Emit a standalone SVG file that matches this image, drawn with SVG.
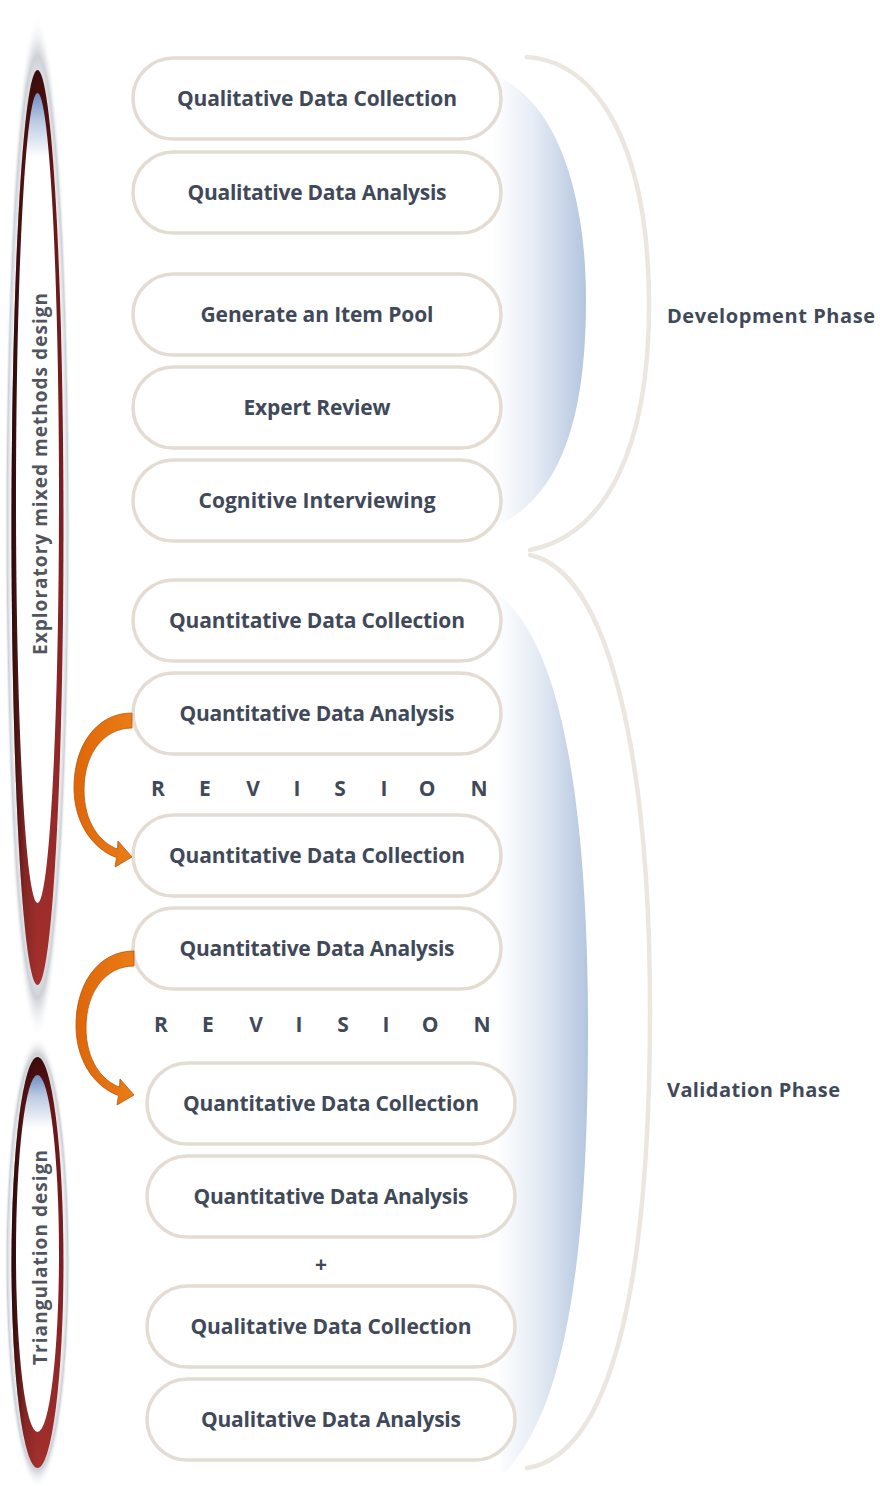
<svg xmlns="http://www.w3.org/2000/svg" width="880" height="1486" viewBox="0 0 880 1486">
<style>
.box{fill:#ffffff;stroke:#e4dcd3;stroke-width:3.5}
.lbl{font-family:"Open Sans","Liberation Sans",sans-serif;font-weight:bold;font-size:21px;fill:#3f4959;text-anchor:middle}
.phase{font-family:"Open Sans","Liberation Sans",sans-serif;font-weight:bold;font-size:20px;fill:#3f4959}
.side{font-family:"Open Sans","Liberation Sans",sans-serif;font-weight:bold;font-size:19px;fill:#51565e;text-anchor:middle}
.brace{fill:none;stroke:#ece6e0;stroke-width:4.5;stroke-linecap:round}
.arrow{fill:url(#orange);stroke:#b9550f;stroke-width:0.8}
</style>
<defs>
<radialGradient id="halo" cx="0.5" cy="0.5" r="0.5">
<stop offset="0" stop-color="#ffffff" stop-opacity="0"/>
<stop offset="0.8" stop-color="#f2f3f5" stop-opacity="0.6"/>
<stop offset="0.92" stop-color="#c8ccd2" stop-opacity="0.9"/>
<stop offset="1" stop-color="#ffffff" stop-opacity="0"/>
</radialGradient>
<linearGradient id="ring" x1="0" y1="0" x2="0" y2="1">
<stop offset="0" stop-color="#3b0b0b"/>
<stop offset="0.12" stop-color="#671717"/>
<stop offset="0.5" stop-color="#7d1f22"/>
<stop offset="1" stop-color="#a3302c"/>
</linearGradient>
<linearGradient id="ringShade" x1="0" y1="0" x2="1" y2="0">
<stop offset="0" stop-color="#000000" stop-opacity="0.7"/>
<stop offset="0.25" stop-color="#000000" stop-opacity="0.15"/>
<stop offset="0.5" stop-color="#000000" stop-opacity="0"/>
</linearGradient>
<linearGradient id="innerTop" x1="0" y1="0" x2="0" y2="1">
<stop offset="0" stop-color="#6e8dc2"/>
<stop offset="0.035" stop-color="#bccbe3"/>
<stop offset="0.08" stop-color="#ffffff"/>
<stop offset="1" stop-color="#ffffff"/>
</linearGradient>
<linearGradient id="innerBot" x1="0" y1="0" x2="0" y2="1">
<stop offset="0" stop-color="#6e8dc2"/>
<stop offset="0.06" stop-color="#bccbe3"/>
<stop offset="0.15" stop-color="#ffffff"/>
<stop offset="1" stop-color="#ffffff"/>
</linearGradient>
<linearGradient id="blueDev" gradientUnits="userSpaceOnUse" x1="492" y1="0" x2="586" y2="0">
<stop offset="0" stop-color="#ffffff"/>
<stop offset="0.45" stop-color="#e6ecf5"/>
<stop offset="1" stop-color="#b3c5df"/>
</linearGradient>
<linearGradient id="blueVal" gradientUnits="userSpaceOnUse" x1="495" y1="0" x2="588" y2="0">
<stop offset="0" stop-color="#ffffff"/>
<stop offset="0.45" stop-color="#e6ecf5"/>
<stop offset="1" stop-color="#b3c5df"/>
</linearGradient>
<linearGradient id="orange" x1="0" y1="0" x2="1" y2="0">
<stop offset="0" stop-color="#de6709"/>
<stop offset="1" stop-color="#ea7c16"/>
</linearGradient>
<path id="arrowShape" d="M132,713 C95,713 73,748 74,790 C75,826 95,850 116.5,857.5 L115,867 L132,857 L118,841 L117.5,849 C100,843 84,822 84,790 C84,752 105,728 132,728 Z"/>
</defs>
<rect x="0" y="0" width="880" height="1486" fill="#ffffff"/>

<g id="background-shading">
<path d="M492,74 C560,100 586,200 586,300 C586,420 560,500 492,528 Z" fill="url(#blueDev)"/>
<path d="M495,592 C565,640 588,820 588,1030 C588,1260 565,1410 505,1472 L500,1472 Z" fill="url(#blueVal)"/>
</g>

<g id="design-exploratory">
<ellipse cx="37.5" cy="527" rx="33" ry="512" fill="url(#halo)"/>
<ellipse cx="37.5" cy="527.5" rx="26" ry="457.5" fill="url(#ring)"/>
<ellipse cx="37.5" cy="527.5" rx="26" ry="457.5" fill="url(#ringShade)"/>
<ellipse cx="37.5" cy="498" rx="21.5" ry="405" fill="url(#innerTop)"/>
<text class="side" transform="translate(47,474) rotate(-90)" textLength="362" lengthAdjust="spacing">Exploratory mixed methods design</text>
</g>

<g id="design-triangulation">
<ellipse cx="37.5" cy="1262" rx="33" ry="226" fill="url(#halo)"/>
<ellipse cx="37.5" cy="1262.5" rx="26" ry="205.5" fill="url(#ring)"/>
<ellipse cx="37.5" cy="1262.5" rx="26" ry="205.5" fill="url(#ringShade)"/>
<ellipse cx="37.5" cy="1253.5" rx="21.5" ry="178.5" fill="url(#innerBot)"/>
<text class="side" transform="translate(47,1257.5) rotate(-90)" textLength="215" lengthAdjust="spacing">Triangulation design</text>
</g>

<g id="phase-development">
<path class="brace" d="M527,57 C600,62 648,150 649,300 C650,450 605,535 530,550"/>
<text class="phase" x="667" y="323" textLength="208" lengthAdjust="spacing">Development Phase</text>
</g>

<g id="phase-validation">
<path class="brace" d="M530,555 C610,572 650,760 650,1010 C650,1290 610,1455 527,1468"/>
<text class="phase" x="667" y="1097" textLength="173" lengthAdjust="spacing">Validation Phase</text>
</g>

<g id="n1"><rect class="box" x="133" y="58" width="368" height="81" rx="40.5"/><text class="lbl" x="317" y="106" textLength="280" lengthAdjust="spacing">Qualitative Data Collection</text></g>
<g id="n2"><rect class="box" x="133" y="152" width="368" height="81" rx="40.5"/><text class="lbl" x="317" y="200" textLength="259" lengthAdjust="spacing">Qualitative Data Analysis</text></g>
<g id="n3"><rect class="box" x="133" y="274" width="368" height="81" rx="40.5"/><text class="lbl" x="317" y="322" textLength="233" lengthAdjust="spacing">Generate an Item Pool</text></g>
<g id="n4"><rect class="box" x="133" y="367" width="368" height="81" rx="40.5"/><text class="lbl" x="317" y="415" textLength="147" lengthAdjust="spacing">Expert Review</text></g>
<g id="n5"><rect class="box" x="133" y="460" width="368" height="81" rx="40.5"/><text class="lbl" x="317" y="508" textLength="237" lengthAdjust="spacing">Cognitive Interviewing</text></g>
<g id="n6"><rect class="box" x="133" y="580" width="368" height="81" rx="40.5"/><text class="lbl" x="317" y="628" textLength="296" lengthAdjust="spacing">Quantitative Data Collection</text></g>
<g id="n7"><rect class="box" x="133" y="673" width="368" height="81" rx="40.5"/><text class="lbl" x="317" y="721" textLength="275" lengthAdjust="spacing">Quantitative Data Analysis</text></g>
<g id="rev1"><text class="lbl" x="158 205 253 297 340 384 427 479" y="796">REVISION</text></g>
<g id="n8"><rect class="box" x="133" y="815" width="368" height="81" rx="40.5"/><text class="lbl" x="317" y="863" textLength="296" lengthAdjust="spacing">Quantitative Data Collection</text></g>
<g id="n9"><rect class="box" x="133" y="908" width="368" height="81" rx="40.5"/><text class="lbl" x="317" y="956" textLength="275" lengthAdjust="spacing">Quantitative Data Analysis</text></g>
<g id="rev2"><text class="lbl" x="161 208 256 299 343 386 430 482" y="1032">REVISION</text></g>
<g id="n10"><rect class="box" x="147" y="1063" width="368" height="81" rx="40.5"/><text class="lbl" x="331" y="1111" textLength="296" lengthAdjust="spacing">Quantitative Data Collection</text></g>
<g id="n11"><rect class="box" x="147" y="1156" width="368" height="81" rx="40.5"/><text class="lbl" x="331" y="1204" textLength="275" lengthAdjust="spacing">Quantitative Data Analysis</text></g>
<g id="plus"><text class="lbl" x="321" y="1272">+</text></g>
<g id="n12"><rect class="box" x="147" y="1286" width="368" height="81" rx="40.5"/><text class="lbl" x="331" y="1334" textLength="281" lengthAdjust="spacing">Qualitative Data Collection</text></g>
<g id="n13"><rect class="box" x="147" y="1379" width="368" height="81" rx="40.5"/><text class="lbl" x="331" y="1427" textLength="260" lengthAdjust="spacing">Qualitative Data Analysis</text></g>

<g id="connectors">
<use href="#arrowShape" class="arrow"/>
<use href="#arrowShape" class="arrow" transform="translate(2,238)"/>
</g>
</svg>
